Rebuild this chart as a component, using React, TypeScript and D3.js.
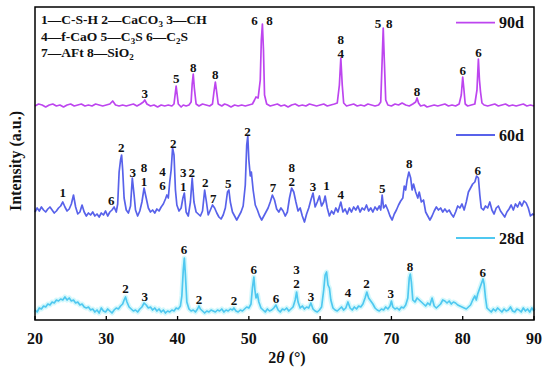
import React from 'react';
import * as d3 from 'd3';

// 2θ (°) / intensity (a.u., offset stacked)
const d90: [number, number][] = [
  [20, 214], [20.5, 216], [21, 215], [21.5, 213], [22, 215], [22.5, 216], [23, 214], [23.5, 215], [24, 213], [24.5, 215],
  [25, 216], [25.5, 214], [26, 215], [26.5, 216], [27, 214], [27.5, 215], [28, 214], [28.5, 216], [29, 215], [29.5, 214],
  [30, 215], [30.5, 216], [30.9, 219], [31.3, 215], [31.8, 214], [32.3, 215], [32.8, 214], [33.3, 215], [33.8, 216], [34.3, 214],
  [34.8, 216], [35.2, 218], [35.4, 220], [35.7, 216], [36.2, 214], [36.7, 215], [37.2, 213], [37.7, 215], [38.2, 214], [38.7, 215],
  [39.2, 214], [39.5, 216], [39.7, 228], [39.8, 234], [39.9, 228], [40.1, 216], [40.5, 213], [40.8, 215], [41.2, 214], [41.6, 215],
  [41.9, 218], [42.05, 236], [42.2, 246], [42.35, 232], [42.6, 216], [43, 214], [43.5, 216], [44, 215], [44.5, 214], [44.9, 216],
  [45.1, 228], [45.3, 238], [45.45, 230], [45.7, 216], [46.2, 214], [46.6, 216], [47, 215], [47.5, 213], [48, 215], [48.5, 214],
  [49, 215], [49.5, 214], [50, 215], [50.5, 216], [50.8, 220], [51, 223], [51.3, 222], [51.6, 240], [51.75, 280], [51.9, 296],
  [52.05, 270], [52.2, 225], [52.5, 216], [53, 214], [53.5, 215], [54, 216], [54.5, 214], [55, 215], [55.5, 213], [56, 215],
  [56.5, 216], [57, 214], [57.5, 215], [58, 214], [58.5, 216], [59, 215], [59.5, 214], [60, 215], [60.5, 216], [61, 214],
  [61.5, 215], [62, 216], [62.4, 217], [62.7, 235], [62.9, 262], [63.1, 235], [63.3, 217], [63.7, 214], [64.2, 215], [64.7, 216],
  [65.2, 214], [65.7, 215], [66.2, 214], [66.7, 216], [67.2, 215], [67.7, 214], [68.2, 215], [68.5, 218], [68.7, 260], [68.85, 292],
  [69, 260], [69.2, 220], [69.5, 215], [70, 214], [70.5, 216], [71, 215], [71.5, 217], [72, 215], [72.5, 214], [73, 216],
  [73.4, 218], [73.6, 222], [73.8, 217], [74.1, 214], [74.6, 215], [75, 213], [75.5, 214], [76, 215], [76.5, 214], [77, 215],
  [77.5, 216], [78, 214], [78.5, 215], [79, 214], [79.5, 216], [79.8, 225], [80, 243], [80.15, 232], [80.35, 216], [80.7, 214],
  [81.2, 215], [81.7, 216], [82, 230], [82.2, 261], [82.35, 240], [82.5, 228], [82.7, 217], [83, 215], [83.5, 214], [84, 215],
  [84.5, 216], [85, 214], [85.5, 215], [86, 216], [86.5, 214], [87, 215], [87.5, 214], [88, 215], [88.5, 216], [89, 214],
  [89.5, 215], [90, 214],
];

const d60: [number, number][] = [
  [20, 108], [20.3, 112], [20.6, 109], [20.9, 113], [21.2, 110], [21.5, 108], [21.8, 111], [22.1, 113], [22.4, 110], [22.7, 107],
  [23, 109], [23.3, 112], [23.6, 114], [23.9, 118], [24.2, 113], [24.5, 109], [24.8, 111], [25.1, 116], [25.4, 125], [25.7, 113],
  [26, 106], [26.3, 108], [26.6, 115], [26.9, 108], [27.2, 104], [27.5, 107], [27.8, 105], [28.1, 108], [28.4, 104], [28.7, 106],
  [29, 103], [29.3, 107], [29.6, 105], [29.9, 109], [30.2, 104], [30.5, 108], [30.8, 110], [31.1, 113], [31.4, 108], [31.6, 116],
  [31.8, 148], [32, 160], [32.15, 165], [32.3, 150], [32.5, 122], [32.8, 110], [33.1, 107], [33.4, 114], [33.65, 142], [33.9, 125],
  [34.1, 110], [34.4, 104], [34.7, 109], [35, 118], [35.3, 132], [35.6, 122], [35.9, 112], [36.2, 108], [36.5, 110], [36.8, 107],
  [37.1, 111], [37.4, 109], [37.7, 113], [38, 116], [38.3, 121], [38.5, 125], [38.7, 122], [38.9, 138], [39.1, 150], [39.3, 172],
  [39.5, 165], [39.7, 130], [39.9, 115], [40.2, 109], [40.5, 112], [40.75, 122], [40.95, 127], [41.2, 108], [41.5, 104], [41.8, 118],
  [42.05, 142], [42.3, 118], [42.6, 108], [42.9, 106], [43.2, 104], [43.5, 109], [43.8, 130], [44.05, 118], [44.3, 105], [44.6, 110],
  [44.9, 115], [45.2, 112], [45.5, 107], [45.8, 103], [46.1, 101], [46.4, 105], [46.7, 112], [47, 128], [47.2, 130], [47.4, 118],
  [47.7, 108], [48, 104], [48.3, 100], [48.6, 104], [48.9, 108], [49.2, 114], [49.5, 135], [49.7, 175], [49.85, 184], [50, 160],
  [50.2, 144], [50.35, 148], [50.6, 130], [50.9, 115], [51.2, 110], [51.5, 104], [51.8, 100], [52.1, 104], [52.4, 108], [52.7, 112],
  [53, 118], [53.3, 125], [53.6, 120], [53.9, 111], [54.2, 108], [54.5, 112], [54.8, 109], [55.1, 104], [55.4, 108], [55.7, 122],
  [56, 132], [56.3, 128], [56.6, 118], [56.9, 109], [57.2, 112], [57.5, 104], [57.8, 98], [58.1, 106], [58.4, 112], [58.7, 120],
  [59, 127], [59.3, 113], [59.6, 118], [59.9, 124], [60.2, 114], [60.5, 118], [60.7, 124], [61, 112], [61.3, 104], [61.6, 109],
  [61.9, 106], [62.2, 112], [62.5, 108], [62.9, 118], [63.2, 108], [63.5, 111], [63.8, 106], [64.1, 112], [64.4, 108], [64.7, 113],
  [65, 110], [65.3, 114], [65.6, 108], [65.9, 112], [66.2, 110], [66.5, 115], [66.8, 109], [67.1, 112], [67.4, 108], [67.7, 113],
  [68, 110], [68.3, 114], [68.5, 110], [68.7, 125], [68.9, 112], [69.2, 115], [69.5, 110], [69.8, 104], [70.1, 100], [70.4, 106],
  [70.7, 110], [71, 115], [71.3, 119], [71.6, 122], [71.8, 134], [72, 130], [72.2, 140], [72.45, 148], [72.7, 142], [72.9, 130],
  [73.1, 136], [73.4, 128], [73.7, 122], [73.9, 128], [74.2, 118], [74.5, 120], [74.8, 108], [75.1, 104], [75.4, 100], [75.7, 104],
  [76, 109], [76.3, 113], [76.6, 110], [76.9, 112], [77.2, 108], [77.5, 111], [77.8, 108], [78.1, 110], [78.4, 106], [78.7, 103],
  [79, 108], [79.3, 114], [79.6, 112], [79.9, 116], [80.2, 110], [80.5, 118], [80.8, 128], [81.1, 132], [81.4, 136], [81.7, 138],
  [81.95, 144], [82.2, 142], [82.4, 125], [82.6, 112], [82.9, 110], [83.2, 114], [83.5, 112], [83.8, 118], [84.1, 110], [84.4, 106],
  [84.7, 112], [85, 114], [85.3, 109], [85.6, 106], [85.9, 103], [86.2, 108], [86.5, 111], [86.8, 115], [87.1, 110], [87.4, 116],
  [87.7, 113], [88, 118], [88.3, 114], [88.6, 119], [88.9, 117], [89.2, 112], [89.5, 104], [89.8, 106], [90, 105],
];

const d28: [number, number][] = [
  [20, 10], [20.3, 8], [20.6, 12], [20.9, 11], [21.2, 14], [21.5, 13], [21.8, 16], [22.1, 15], [22.4, 18], [22.7, 17],
  [23, 20], [23.3, 19], [23.6, 21], [23.9, 20], [24.2, 23], [24.5, 20], [24.8, 22], [25.1, 19], [25.4, 20], [25.7, 17],
  [26, 18], [26.3, 15], [26.6, 16], [26.9, 13], [27.2, 12], [27.5, 13], [27.8, 10], [28.1, 11], [28.4, 8], [28.7, 10],
  [29, 7], [29.3, 12], [29.6, 9], [29.9, 8], [30.2, 11], [30.5, 9], [30.8, 7], [31.1, 10], [31.4, 12], [31.7, 11],
  [32, 14], [32.3, 16], [32.5, 20], [32.7, 23], [32.9, 18], [33.2, 13], [33.5, 11], [33.8, 9], [34.1, 10], [34.4, 8],
  [34.7, 11], [35, 13], [35.3, 17], [35.6, 15], [35.9, 12], [36.2, 13], [36.5, 10], [36.8, 12], [37.1, 9], [37.4, 11],
  [37.7, 8], [38, 10], [38.3, 7], [38.6, 9], [38.9, 8], [39.2, 10], [39.5, 9], [39.8, 12], [40.1, 11], [40.4, 14],
  [40.6, 24], [40.8, 50], [40.95, 62], [41.1, 45], [41.3, 18], [41.6, 11], [41.9, 9], [42.2, 10], [42.5, 8], [42.8, 11],
  [43, 14], [43.2, 11], [43.5, 9], [43.8, 7], [44.1, 9], [44.4, 8], [44.7, 10], [45, 9], [45.3, 8], [45.6, 10],
  [45.9, 9], [46.2, 11], [46.5, 8], [46.8, 10], [47.1, 9], [47.4, 11], [47.7, 10], [47.9, 12], [48.2, 9], [48.5, 8],
  [48.8, 10], [49.1, 9], [49.4, 11], [49.7, 13], [50, 12], [50.3, 16], [50.5, 32], [50.7, 43], [50.85, 30], [51, 22],
  [51.2, 26], [51.4, 18], [51.7, 12], [52, 10], [52.3, 8], [52.6, 11], [52.9, 9], [53.2, 10], [53.5, 12], [53.8, 15],
  [54.1, 10], [54.4, 8], [54.7, 11], [55, 10], [55.3, 12], [55.6, 9], [55.9, 11], [56.2, 13], [56.5, 20], [56.7, 28],
  [56.9, 18], [57.2, 12], [57.5, 14], [57.8, 11], [58.1, 13], [58.4, 12], [58.7, 17], [59, 11], [59.3, 9], [59.6, 8],
  [59.9, 10], [60.2, 13], [60.5, 30], [60.7, 45], [60.9, 48], [61.1, 35], [61.3, 32], [61.5, 20], [61.8, 12], [62.1, 10],
  [62.4, 9], [62.7, 11], [63, 13], [63.3, 10], [63.6, 12], [63.9, 18], [64.2, 12], [64.5, 10], [64.8, 13], [65.1, 11],
  [65.4, 14], [65.7, 13], [66, 16], [66.3, 22], [66.55, 28], [66.8, 22], [67.1, 19], [67.4, 16], [67.7, 12], [68, 10],
  [68.3, 9], [68.6, 11], [68.9, 10], [69.2, 13], [69.5, 11], [69.8, 14], [70, 19], [70.2, 13], [70.5, 11], [70.8, 12],
  [71.1, 10], [71.4, 13], [71.7, 12], [72, 15], [72.3, 22], [72.5, 42], [72.65, 46], [72.8, 38], [73, 20], [73.3, 18],
  [73.6, 22], [73.9, 20], [74.2, 18], [74.5, 16], [74.8, 14], [75.1, 17], [75.4, 15], [75.7, 22], [76, 14], [76.3, 12],
  [76.6, 14], [76.9, 16], [77.2, 20], [77.5, 19], [77.8, 17], [78.1, 19], [78.4, 16], [78.7, 18], [79, 17], [79.3, 15],
  [79.6, 14], [79.9, 13], [80.2, 12], [80.5, 11], [80.8, 13], [81.1, 15], [81.4, 20], [81.7, 24], [81.9, 20], [82.1, 26],
  [82.4, 32], [82.7, 38], [82.85, 41], [83, 36], [83.2, 22], [83.4, 12], [83.7, 10], [84, 8], [84.3, 11], [84.6, 9],
  [84.9, 12], [85.2, 10], [85.5, 8], [85.8, 11], [86.1, 9], [86.4, 10], [86.7, 13], [87, 9], [87.3, 8], [87.6, 11],
  [87.9, 10], [88.2, 8], [88.5, 12], [88.8, 9], [89.1, 11], [89.4, 8], [89.7, 12], [90, 9],
];

// peak labels: [2θ, intensity, text]
const labels90: [number, number, string][] = [
  [35.4, 227, '3'], [39.8, 242, '5'], [42.2, 253, '8'], [45.3, 246, '8'], [50.8, 300, '6'], [52.9, 300, '8'],
  [62.9, 281, '8'], [62.9, 267, '4'], [68.1, 297, '5'], [69.7, 297, '8'], [73.6, 229, '8'], [80.0, 250, '6'], [82.2, 268, '6'],
];
const labels60: [number, number, string][] = [
  [23.9, 128, '1'], [30.7, 120, '6'], [32.1, 173, '2'], [33.7, 148, '3'], [35.3, 153, '8'], [35.3, 139, '1'],
  [37.9, 149, '4'], [37.9, 135, '6'], [39.4, 177, '2'], [40.8, 148, '3'], [42.0, 148, '2'], [40.8, 134, '1'],
  [43.9, 138, '2'], [45.0, 122, '7'], [47.1, 137, '5'], [49.8, 189, '2'], [53.4, 133, '7'], [56.0, 153, '8'],
  [56.0, 139, '2'], [59.0, 134, '3'], [60.9, 135, '1'], [62.9, 126, '4'], [68.7, 132, '5'], [72.5, 157, '8'], [82.1, 150, '6'],
];
const labels28: [number, number, string][] = [
  [32.7, 32, '2'], [35.4, 24, '3'], [40.9, 71, '6'], [43.0, 21, '2'], [47.9, 20, '2'], [50.7, 51, '6'], [53.8, 22, '6'],
  [56.7, 51, '3'], [56.7, 37, '2'], [58.7, 24, '3'], [63.9, 28, '4'], [66.5, 37, '2'], [69.9, 27, '3'], [72.6, 54, '8'], [82.8, 48, '6'],
];

const seriesNames = ['90d', '60d', '28d'];
const seriesColors = ['#bd45ef', '#5862ea', '#4fc8f0'];
const xTicks = [20, 30, 40, 50, 60, 70, 80, 90];

const W = 550, H = 372;
const m = { left: 35, right: 16, top: 7, bottom: 52 };
const FONT = '"Liberation Serif", "Times New Roman", serif';

export default function App() {
  const x = d3.scaleLinear().domain([20, 90]).range([m.left, W - m.right]);
  const y = d3.scaleLinear().domain([0, 313]).range([H - m.bottom, m.top]);
  const line = d3.line<[number, number]>().x(d => x(d[0])).y(d => y(d[1]));
  const datas = [d90, d60, d28];
  const labels = [labels90, labels60, labels28];
  const legendY = [22.7, 135, 238];

  return (
    <svg width={W} height={H} style={{ position: 'absolute', left: 0, top: 0, background: '#fff' }} fontFamily={FONT}>
      <rect x={0} y={0} width={W} height={H} fill="#fff" />
      {/* halo for 28d (soft highlight in the source) */}
      <path d={line(d28) ?? ''} fill="none" stroke="#9ff0f8" strokeWidth={5} strokeOpacity={0.45} strokeLinejoin="round" />
      {datas.map((d, i) => (
        <path key={i} d={line(d) ?? ''} fill="none" stroke={seriesColors[i]} strokeWidth={1.7} strokeLinejoin="round" />
      ))}
      {labels.map((ls, i) => ls.map((l, j) => (
        <text key={`${i}-${j}`} x={x(l[0])} y={y(l[1])} textAnchor="middle" dominantBaseline="central"
          fontSize={13} fontWeight="bold" fill="#111">{l[2]}</text>
      )))}
      {seriesNames.map((n, i) => (
        <g key={n}>
          <line x1={456} x2={495} y1={legendY[i]} y2={legendY[i]} stroke={seriesColors[i]} strokeWidth={1.8} />
          <text x={499} y={legendY[i]} dominantBaseline="central" fontSize={16} fontWeight="bold" fill="#111">{n}</text>
        </g>
      ))}
      <g fontSize={13.5} fontWeight="bold" fill="#111">
        <text x={41} y={24}>1—C-S-H 2—CaCO<tspan fontSize={9} dy={3}>3</tspan><tspan dy={-3}> 3—CH</tspan></text>
        <text x={41} y={40.5}>4—f-CaO 5—C<tspan fontSize={9} dy={3}>3</tspan><tspan dy={-3}>S 6—C</tspan><tspan fontSize={9} dy={3}>2</tspan><tspan dy={-3}>S</tspan></text>
        <text x={41} y={57}>7—AFt  8—SiO<tspan fontSize={9} dy={3}>2</tspan></text>
      </g>
      {/* frame */}
      <rect x={m.left} y={m.top} width={W - m.left - m.right} height={H - m.top - m.bottom} fill="none" stroke="#000" strokeWidth={1.5} />
      {xTicks.map(t => (
        <g key={t}>
          <line x1={x(t)} x2={x(t)} y1={H - m.bottom} y2={H - m.bottom - 4} stroke="#000" strokeWidth={1.3} />
          <text x={x(t)} y={338} textAnchor="middle" dominantBaseline="central" fontSize={16} fontWeight="bold" fill="#111">{t}</text>
        </g>
      ))}
      <text x={287} y={357} textAnchor="middle" dominantBaseline="central" fontSize={16} fontWeight="bold" fill="#111">
        2<tspan fontStyle="italic">θ</tspan> (°)
      </text>
      <text transform={`translate(15,161) rotate(-90)`} textAnchor="middle" dominantBaseline="central" fontSize={16} fontWeight="bold" fill="#111">
        Intensity (a.u.)
      </text>
    </svg>
  );
}
